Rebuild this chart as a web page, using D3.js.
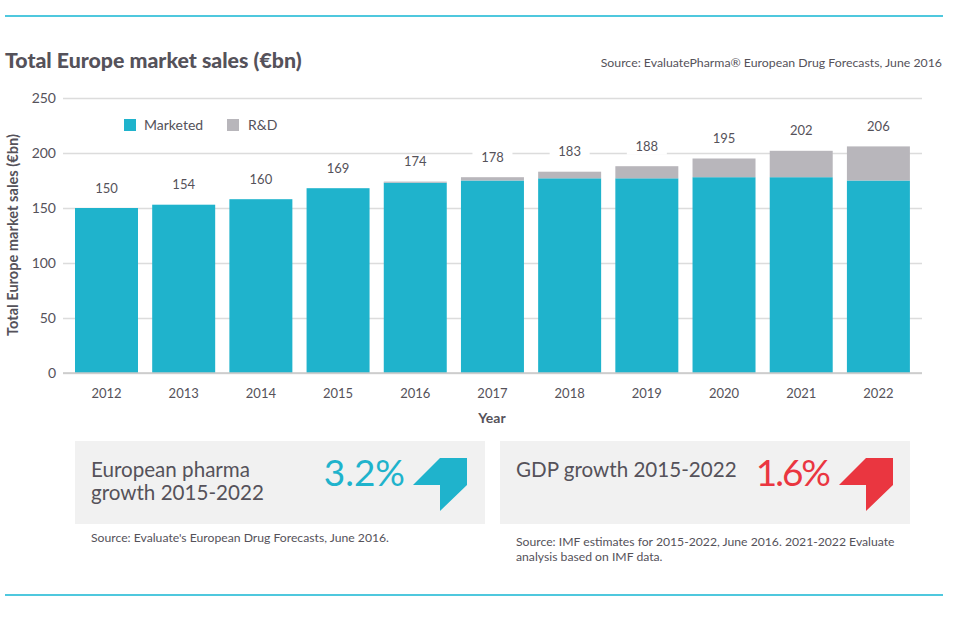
<!DOCTYPE html>
<html>
<head>
<meta charset="utf-8">
<script src="https://cdn.jsdelivr.net/npm/d3@7"></script>
<style>
html, body { margin: 0; padding: 0; background: #fff; }
svg { display: block; }
text { font-family: Lato, "Open Sans", sans-serif; fill: #55525a; }
</style>
</head>
<body>
<svg id="chart" width="964" height="620"></svg>
<script>
var years = ['2012', '2013', '2014', '2015', '2016', '2017', '2018', '2019', '2020', '2021', '2022'];
var marketed = [150, 153, 158, 168, 173, 175, 177, 177, 178, 178, 175];
var rd = [0, 0, 0, 0, 1, 3, 6, 11, 17, 24, 31];
var totals = [150, 154, 160, 169, 174, 178, 183, 188, 195, 202, 206];
var yTicks = [0, 50, 100, 150, 200, 250];
var seriesNames = ['Marketed', 'R&D'];

var teal = '#1fb3cc', grey = '#b8b6bb', red = '#ea3640', ruleColor = '#4fc8de';

var svg = d3.select('#chart');

// top and bottom rules
svg.selectAll('line.rule')
  .data([16, 595])
  .enter().append('line')
  .attr('class', 'rule')
  .attr('x1', 5).attr('x2', 943)
  .attr('y1', function(d) { return d; }).attr('y2', function(d) { return d; })
  .attr('stroke', ruleColor)
  .attr('stroke-width', 2);

svg.append('text')
  .attr('x', 5).attr('y', 68)
  .attr('font-size', '21.3px').attr('font-weight', 900)
  .text('Total Europe market sales (€bn)');

svg.append('text')
  .attr('x', 942).attr('y', 67)
  .attr('text-anchor', 'end')
  .attr('font-size', '12.3px')
  .text('Source: EvaluatePharma® European Drug Forecasts, June 2016');

var x = d3.scaleBand().domain(years).range([67.9, 917]).paddingInner(0.184).paddingOuter(0.092);
var y = d3.scaleLinear().domain([0, 250]).range([373, 98]);

// gridlines + y labels
var yAxis = svg.append('g')
  .attr('transform', 'translate(63,0)')
  .call(d3.axisLeft(y).tickValues(yTicks).tickSize(-859).tickPadding(7));
yAxis.select('.domain').remove();
yAxis.selectAll('line').attr('stroke', '#dcdcdc').attr('stroke-width', 1.5);
yAxis.selectAll('text').attr('font-size', '14px').attr('font-family', 'Lato').style('fill', '#55525a');

// stacked bars
var bars = svg.append('g').selectAll('g')
  .data(years)
  .enter().append('g');

bars.append('rect')
  .attr('x', function(d) { return x(d); })
  .attr('width', x.bandwidth())
  .attr('y', function(d, i) { return y(marketed[i]); })
  .attr('height', function(d, i) { return y(0) - y(marketed[i]); })
  .attr('fill', teal);

bars.append('rect')
  .attr('x', function(d) { return x(d); })
  .attr('width', x.bandwidth())
  .attr('y', function(d, i) { return y(marketed[i] + rd[i]); })
  .attr('height', function(d, i) { return y(marketed[i]) - y(marketed[i] + rd[i]); })
  .attr('fill', grey);

// total labels, white box knocks out the gridline
var totalY = function(i) { return y(marketed[i] + rd[i]) - 15.5; };
bars.append('rect')
  .attr('x', function(d) { return x(d) + x.bandwidth() / 2 - 20; })
  .attr('width', 40)
  .attr('y', function(d, i) { return totalY(i) - 11; })
  .attr('height', 15)
  .attr('fill', '#fff');

bars.append('text')
  .attr('x', function(d) { return x(d) + x.bandwidth() / 2; })
  .attr('y', function(d, i) { return totalY(i); })
  .attr('text-anchor', 'middle')
  .attr('font-size', '13px')
  .text(function(d, i) { return totals[i]; });

// x axis
var xAxis = svg.append('g')
  .attr('transform', 'translate(0,373)')
  .call(d3.axisBottom(x).tickSize(0).tickPadding(16));
xAxis.select('.domain').attr('d', 'M63,0H922').attr('stroke', '#c8c8c8').attr('stroke-width', 1.5);
xAxis.selectAll('text').attr('font-size', '13px').attr('font-family', 'Lato').style('fill', '#55525a');

svg.append('text')
  .attr('x', 492).attr('y', 423)
  .attr('text-anchor', 'middle')
  .attr('font-size', '14px').attr('font-weight', 700)
  .text('Year');

svg.append('text')
  .attr('transform', 'translate(18,235) rotate(-90)')
  .attr('text-anchor', 'middle')
  .attr('font-size', '14.6px').attr('font-weight', 700)
  .text('Total Europe market sales (€bn)');

// legend
var legend = svg.append('g').selectAll('g')
  .data(seriesNames)
  .enter().append('g')
  .attr('transform', function(d, i) { return 'translate(' + (i === 0 ? 124 : 227) + ',119)'; });

legend.append('rect')
  .attr('width', 12).attr('height', 12)
  .attr('fill', function(d, i) { return i === 0 ? teal : grey; });

legend.append('text')
  .attr('x', function(d, i) { return i === 0 ? 20 : 21; }).attr('y', 11)
  .attr('font-size', '14px')
  .text(function(d) { return d; });

// growth panels
function panel(px, lines, pct, pctX, pctSpacing, color, arrowX, source, sourceY) {
  svg.append('rect')
    .attr('x', px).attr('y', 441)
    .attr('width', 410).attr('height', 83)
    .attr('fill', '#f1f1f1');

  lines.forEach(function(line, i) {
    svg.append('text')
      .attr('x', px + 16).attr('y', 477 + i * 23)
      .attr('font-size', '20.6px')
      .text(line);
  });

  svg.append('text')
    .attr('x', pctX).attr('y', 486)
    .attr('text-anchor', 'end')
    .attr('font-size', '37px')
    .attr('letter-spacing', pctSpacing)
    .style('fill', color)
    .text(pct);

  var arrow = [[0, 27], [27, 0], [54, 0], [54, 27], [27, 53], [27, 27]];
  svg.append('path')
    .attr('transform', 'translate(' + arrowX + ',458)')
    .attr('d', d3.line()(arrow) + 'Z')
    .attr('fill', color);

  source.forEach(function(line, i) {
    svg.append('text')
      .attr('x', px + 16).attr('y', sourceY + i * 15)
      .attr('font-size', '12.2px')
      .text(line);
  });
}

panel(75, ['European pharma', 'growth 2015-2022'], '3.2%', 405, 0, teal, 413,
  ["Source: Evaluate's European Drug Forecasts, June 2016."], 542);
panel(500, ['GDP growth 2015-2022'], '1.6%', 829, -2, red, 839,
  ['Source: IMF estimates for 2015-2022, June 2016. 2021-2022 Evaluate', 'analysis based on IMF data.'], 546);
</script>
</body>
</html>
